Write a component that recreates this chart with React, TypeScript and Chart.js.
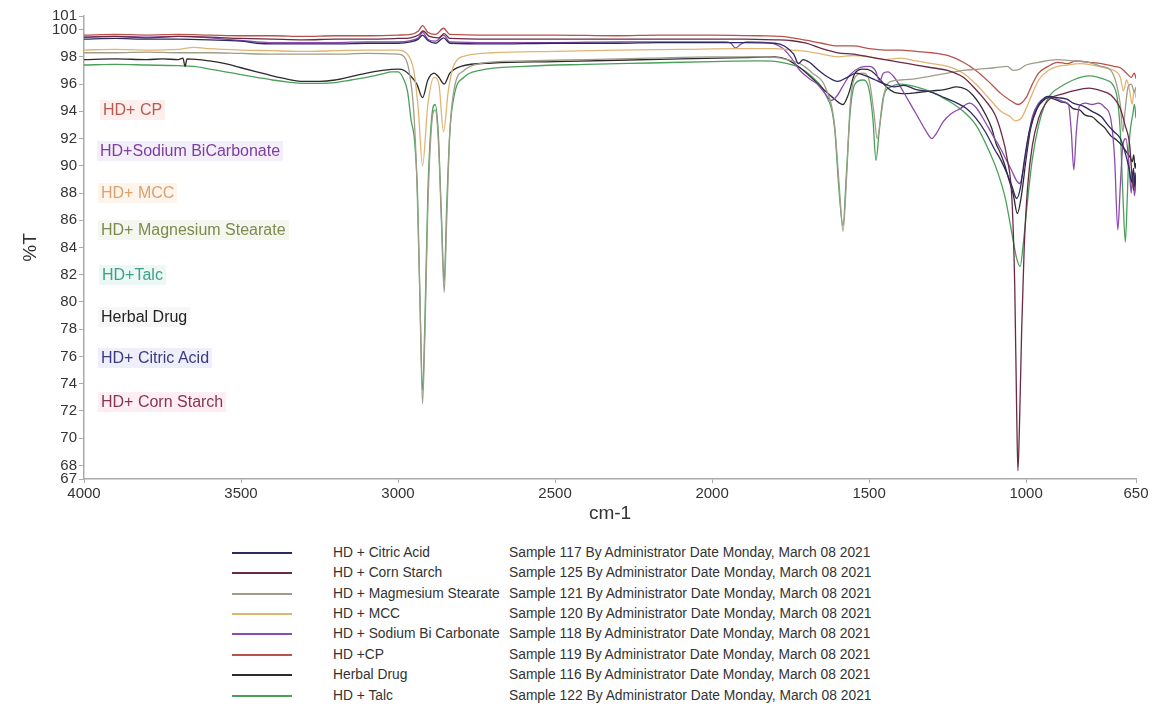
import React, { useEffect, useRef } from 'react';
import { Chart, registerables } from 'chart.js';
Chart.register(...registerables);

type P = [number, number];

const xTicks = [4000, 3500, 3000, 2500, 2000, 1500, 1000, 650];
const yTicks = [67, 68, 70, 72, 74, 76, 78, 80, 82, 84, 86, 88, 90, 92, 94, 96, 98, 100, 101];

const citricAcid: P[] = [
  [4000, 99.3], [3900, 99.35], [3800, 99.3], [3700, 99.3], [3600, 99.25], [3500, 99.15], [3450, 99.0], [3400, 98.95],
  [3300, 98.95], [3200, 98.95], [3100, 99.0], [3000, 99.0], [2960, 99.1], [2935, 99.3], [2922, 99.6], [2905, 99.2],
  [2880, 99.0], [2855, 99.4], [2835, 99.0], [2700, 98.95], [2500, 99.0], [2300, 99.0], [2170, 99.05], [2000, 99.05],
  [1900, 99.05], [1800, 99.0], [1770, 98.8], [1740, 98.2], [1725, 97.5], [1710, 97.8], [1690, 97.6], [1660, 97.0],
  [1630, 96.5], [1600, 96.2], [1570, 96.5], [1540, 96.8], [1510, 96.6], [1480, 96.3], [1450, 96.0], [1420, 95.8],
  [1390, 95.9], [1350, 95.6], [1300, 95.4], [1260, 95.0], [1220, 94.6], [1190, 94.2], [1160, 93.5], [1130, 92.5],
  [1100, 91.2], [1080, 90.4], [1060, 89.4], [1045, 88.5], [1030, 87.6], [1018, 88.4], [1005, 90.5], [990, 92.5],
  [970, 94.0], [950, 94.8], [930, 95.1], [900, 95.0], [870, 94.9], [850, 94.6], [820, 94.4], [790, 94.0],
  [760, 93.6], [740, 93.0], [720, 92.5], [700, 92.0], [685, 91.0], [672, 89.8], [664, 88.8], [658, 89.8],
  [654, 88.5], [650, 89.2],
];

const cornStarch: P[] = [
  [4000, 99.45], [3900, 99.5], [3800, 99.4], [3700, 99.5], [3600, 99.45], [3500, 99.35], [3400, 99.3], [3300, 99.25],
  [3200, 99.3], [3100, 99.3], [3000, 99.35], [2960, 99.4], [2935, 99.6], [2920, 99.9], [2900, 99.5], [2870, 99.4],
  [2853, 99.7], [2835, 99.35], [2700, 99.3], [2500, 99.3], [2300, 99.3], [2170, 99.3], [2000, 99.3], [1900, 99.3],
  [1800, 99.25], [1750, 99.2], [1700, 99.0], [1650, 98.6], [1600, 98.3], [1550, 98.2], [1500, 98.0], [1450, 97.8],
  [1400, 97.6], [1350, 97.4], [1300, 97.2], [1250, 97.0], [1200, 96.5], [1160, 95.6], [1130, 94.8], [1100, 93.8],
  [1080, 92.5], [1060, 90.5], [1045, 87.5], [1036, 81.0], [1030, 72.0], [1026, 67.6], [1021, 71.0], [1014, 78.0],
  [1006, 84.0], [995, 88.5], [980, 91.5], [960, 93.5], [940, 94.5], [920, 95.0], [880, 95.3], [850, 95.5],
  [800, 95.7], [760, 95.5], [730, 95.2], [700, 94.2], [685, 93.0], [670, 91.5], [662, 89.0], [657, 88.2],
  [653, 89.5], [650, 88.8],
];

const magnesiumStearate: P[] = [
  [4000, 98.3], [3900, 98.3], [3800, 98.35], [3700, 98.3], [3600, 98.3], [3500, 98.25], [3400, 98.2], [3300, 98.2],
  [3200, 98.2], [3100, 98.25], [3000, 98.2], [2980, 98.0], [2965, 97.0], [2950, 94.0], [2940, 89.0], [2930, 80.0],
  [2922, 72.5], [2914, 78.0], [2905, 87.0], [2893, 93.0], [2882, 94.1], [2872, 92.0], [2862, 86.0], [2853, 80.7],
  [2845, 86.0], [2835, 92.5], [2820, 95.8], [2790, 97.0], [2740, 97.5], [2600, 97.7], [2400, 97.8], [2200, 97.9],
  [2000, 98.0], [1850, 98.0], [1780, 97.9], [1720, 97.5], [1680, 96.8], [1640, 95.8], [1610, 93.0], [1595, 88.5],
  [1583, 85.2], [1572, 89.0], [1560, 94.5], [1545, 96.5], [1520, 96.8], [1500, 96.3], [1485, 94.0], [1474, 92.0],
  [1463, 93.5], [1450, 95.5], [1430, 96.2], [1400, 96.3], [1350, 96.4], [1300, 96.6], [1250, 96.8], [1200, 97.0],
  [1150, 97.1], [1100, 97.2], [1060, 97.3], [1040, 97.0], [1020, 97.1], [1000, 97.4], [960, 97.6], [900, 97.8],
  [850, 97.7], [800, 97.6], [760, 97.3], [730, 97.0], [710, 95.8], [700, 94.5], [692, 92.5], [685, 94.0],
  [675, 95.8], [665, 96.0], [655, 95.4], [650, 95.8],
];

const mcc: P[] = [
  [4000, 98.5], [3900, 98.55], [3800, 98.5], [3700, 98.55], [3650, 98.7], [3600, 98.6], [3500, 98.5], [3400, 98.45],
  [3300, 98.4], [3200, 98.45], [3100, 98.5], [3000, 98.5], [2970, 98.2], [2950, 97.0], [2935, 94.0], [2922, 90.0],
  [2905, 94.5], [2885, 96.5], [2870, 96.0], [2855, 92.5], [2840, 95.5], [2820, 97.5], [2780, 98.1], [2700, 98.3],
  [2500, 98.4], [2300, 98.5], [2100, 98.55], [1900, 98.6], [1800, 98.6], [1750, 98.5], [1700, 98.4], [1650, 98.2],
  [1600, 98.0], [1550, 98.1], [1500, 98.0], [1450, 97.8], [1400, 97.9], [1350, 97.7], [1300, 97.5], [1250, 97.3],
  [1200, 96.8], [1160, 96.0], [1120, 95.0], [1080, 94.0], [1050, 93.6], [1035, 93.3], [1015, 93.5], [1000, 94.2],
  [980, 95.3], [960, 96.3], [930, 97.0], [900, 97.3], [870, 97.4], [830, 97.5], [790, 97.4], [750, 97.2],
  [720, 97.0], [700, 96.5], [690, 95.5], [680, 96.3], [670, 95.5], [662, 94.5], [656, 95.6], [650, 95.0],
];

const sodiumBicarbonate: P[] = [
  [4000, 99.45], [3900, 99.5], [3800, 99.45], [3700, 99.5], [3600, 99.4], [3500, 99.2], [3450, 99.1], [3400, 99.05],
  [3300, 99.05], [3200, 99.05], [3100, 99.1], [3000, 99.1], [2960, 99.2], [2935, 99.4], [2922, 99.8], [2905, 99.3],
  [2880, 99.15], [2855, 99.6], [2835, 99.1], [2700, 99.05], [2500, 99.05], [2300, 99.1], [2170, 99.1], [2050, 99.1],
  [1960, 99.1], [1940, 99.0], [1925, 98.65], [1910, 98.9], [1890, 99.1], [1820, 99.05], [1780, 98.7], [1750, 98.0],
  [1720, 97.0], [1690, 96.4], [1665, 96.0], [1640, 95.3], [1620, 94.8], [1600, 95.2], [1585, 95.8], [1560, 96.7],
  [1530, 97.2], [1500, 97.3], [1480, 97.0], [1466, 96.2], [1455, 96.8], [1440, 96.9], [1420, 96.5], [1400, 95.8],
  [1380, 95.0], [1360, 94.2], [1340, 93.4], [1320, 92.6], [1300, 92.0], [1285, 92.4], [1265, 93.2], [1240, 93.8],
  [1210, 94.2], [1180, 94.6], [1160, 94.3], [1140, 93.6], [1120, 92.8], [1100, 92.0], [1080, 91.2], [1060, 90.3],
  [1045, 89.6], [1030, 88.9], [1020, 88.7], [1008, 89.8], [995, 91.8], [980, 93.6], [960, 94.6], [940, 95.0],
  [920, 95.1], [900, 94.9], [880, 94.7], [865, 94.5], [856, 92.5], [848, 89.7], [840, 92.5], [830, 94.4],
  [810, 94.6], [790, 94.5], [770, 94.6], [750, 94.3], [730, 93.4], [718, 90.5], [708, 85.3], [700, 88.5],
  [692, 91.5], [682, 92.0], [672, 90.0], [665, 88.0], [660, 89.5], [655, 87.8], [650, 88.8],
];

const cp: P[] = [
  [4000, 99.6], [3900, 99.65], [3800, 99.6], [3700, 99.65], [3600, 99.6], [3500, 99.55], [3400, 99.55], [3300, 99.5],
  [3200, 99.55], [3100, 99.55], [3000, 99.6], [2960, 99.65], [2935, 99.9], [2922, 100.3], [2905, 99.8], [2880, 99.65],
  [2855, 100.1], [2835, 99.65], [2700, 99.6], [2500, 99.6], [2300, 99.55], [2170, 99.6], [2000, 99.6], [1850, 99.55],
  [1780, 99.5], [1720, 99.3], [1650, 99.0], [1600, 98.8], [1550, 98.8], [1500, 98.6], [1450, 98.5], [1400, 98.5],
  [1350, 98.4], [1300, 98.3], [1250, 98.1], [1200, 97.6], [1160, 97.0], [1120, 96.2], [1080, 95.3], [1050, 94.8],
  [1025, 94.5], [1000, 95.0], [980, 96.0], [960, 96.8], [930, 97.3], [900, 97.6], [870, 97.5], [840, 97.7],
  [800, 97.6], [760, 97.5], [720, 97.3], [700, 97.2], [680, 96.8], [665, 96.5], [655, 96.8], [650, 96.4],
];

const herbalDrug: P[] = [
  [4000, 97.8], [3900, 97.85], [3800, 97.8], [3750, 97.85], [3700, 97.8], [3685, 97.9], [3678, 97.3], [3672, 97.85],
  [3600, 97.7], [3550, 97.5], [3500, 97.2], [3450, 96.9], [3400, 96.6], [3350, 96.35], [3300, 96.2], [3250, 96.2],
  [3200, 96.3], [3150, 96.55], [3100, 96.8], [3050, 97.0], [3000, 97.1], [2980, 97.0], [2960, 96.6], [2940, 96.0],
  [2922, 95.0], [2905, 96.3], [2885, 96.8], [2870, 96.5], [2853, 96.0], [2835, 96.8], [2800, 97.3], [2700, 97.55],
  [2500, 97.65], [2300, 97.75], [2100, 97.85], [1900, 97.95], [1800, 98.0], [1760, 97.8], [1720, 97.2], [1680, 96.4],
  [1640, 95.5], [1610, 94.9], [1583, 94.5], [1565, 95.3], [1545, 96.8], [1520, 97.1], [1495, 97.0], [1475, 96.6],
  [1460, 96.2], [1445, 95.8], [1420, 95.4], [1380, 95.3], [1340, 95.4], [1300, 95.5], [1260, 95.6], [1220, 95.8],
  [1190, 95.6], [1170, 95.2], [1150, 94.6], [1130, 93.8], [1110, 92.8], [1095, 91.6], [1083, 91.0], [1070, 90.2],
  [1055, 89.0], [1040, 87.8], [1028, 86.5], [1015, 87.8], [1000, 90.5], [985, 92.8], [965, 94.2], [945, 94.8],
  [930, 95.0], [910, 94.9], [890, 94.7], [870, 94.6], [850, 94.2], [830, 94.1], [810, 93.7], [790, 93.6],
  [770, 93.2], [750, 92.8], [730, 92.2], [712, 91.9], [695, 91.5], [680, 91.0], [668, 90.6], [662, 90.3],
  [657, 90.8], [653, 89.8], [650, 90.2],
];

const talc: P[] = [
  [4000, 97.4], [3900, 97.45], [3800, 97.4], [3700, 97.35], [3650, 97.3], [3600, 97.1], [3550, 96.9], [3500, 96.7],
  [3450, 96.5], [3400, 96.3], [3350, 96.15], [3300, 96.05], [3250, 96.05], [3200, 96.1], [3150, 96.3], [3100, 96.5],
  [3050, 96.75], [3020, 96.9], [3000, 96.9], [2985, 96.5], [2970, 95.5], [2958, 93.3], [2948, 92.0], [2938, 88.0],
  [2930, 80.0], [2922, 73.5], [2914, 79.0], [2905, 88.0], [2893, 93.5], [2882, 94.5], [2872, 92.5], [2862, 86.5],
  [2853, 81.5], [2845, 87.0], [2835, 92.5], [2820, 95.3], [2790, 96.5], [2740, 97.0], [2600, 97.3], [2400, 97.45],
  [2200, 97.55], [2000, 97.65], [1850, 97.7], [1780, 97.6], [1720, 97.2], [1680, 96.5], [1640, 95.3], [1610, 92.8],
  [1595, 88.0], [1583, 85.6], [1572, 89.5], [1560, 94.0], [1545, 96.0], [1520, 96.3], [1500, 95.6], [1488, 93.5],
  [1478, 90.4], [1468, 92.5], [1455, 95.0], [1430, 95.8], [1400, 96.0], [1350, 95.8], [1300, 95.4], [1250, 94.8],
  [1200, 94.0], [1160, 93.0], [1120, 91.2], [1090, 89.5], [1065, 87.5], [1045, 85.0], [1030, 83.2], [1019, 82.6],
  [1008, 84.5], [995, 87.5], [980, 90.5], [960, 93.0], [940, 94.5], [920, 95.3], [890, 95.8], [850, 96.3],
  [800, 96.6], [770, 96.5], [745, 96.3], [725, 96.0], [710, 95.0], [700, 92.5], [692, 88.0], [684, 84.4],
  [678, 87.5], [672, 91.5], [666, 93.0], [660, 93.8], [655, 94.5], [650, 93.5],
];

const legendNames = [
  'HD + Citric Acid',
  'HD + Corn Starch',
  'HD + Magmesium Stearate',
  'HD + MCC',
  'HD + Sodium Bi Carbonate',
  'HD +CP',
  'Herbal Drug',
  'HD + Talc',
];
const sampleNumbers = [117, 125, 121, 120, 118, 119, 116, 122];
const seriesColors = ['#2c2a5e', '#6a2a45', '#a09c8a', '#dfb574', '#8c4bb0', '#b8524a', '#2b2b2b', '#4aa05a'];
const seriesData = [citricAcid, cornStarch, magnesiumStearate, mcc, sodiumBicarbonate, cp, herbalDrug, talc];

const plotLabels = ['HD+ CP', 'HD+Sodium BiCarbonate', 'HD+ MCC', 'HD+ Magnesium Stearate', 'HD+Talc', 'Herbal Drug', 'HD+ Citric Acid', 'HD+ Corn Starch'];
const plotLabelColors = ['#b85a4e', '#7b3f9e', '#d9a270', '#7d8a50', '#3fa08a', '#222222', '#3a3a7e', '#8a3550'];
const plotLabelBg = ['rgba(240,150,140,0.15)', 'rgba(170,120,220,0.13)', 'rgba(240,180,120,0.15)', 'rgba(160,190,120,0.13)', 'rgba(120,210,180,0.15)', 'rgba(0,0,0,0.03)', 'rgba(120,120,220,0.12)', 'rgba(240,120,160,0.13)'];
const plotLabelTops = [110, 151, 193, 230, 275, 317, 358, 402];
const plotLabelLefts = [103, 100, 101, 101, 102, 101, 101, 101];

const legendRowCenters = [553, 573, 594, 614, 634, 655, 675, 696];

const FONT = "'Liberation Sans', Arial, sans-serif";

export default function App() {
  const ref = useRef<HTMLCanvasElement>(null);

  useEffect(() => {
    if (!ref.current) return;
    const chart = new Chart(ref.current, {
      type: 'line',
      data: {
        datasets: seriesData.map((s, i) => ({
          label: legendNames[i],
          data: s.map(([x, y]) => ({ x, y })),
          borderColor: seriesColors[i],
          backgroundColor: seriesColors[i],
          borderWidth: 1.3,
          pointRadius: 0,
          cubicInterpolationMode: 'monotone' as const,
          fill: false,
        })),
      },
      options: {
        responsive: false,
        animation: false,
        layout: { padding: { top: 16, right: 21, bottom: 0, left: 0 } },
        plugins: { legend: { display: false }, tooltip: { enabled: false } },
        scales: {
          x: {
            type: 'linear',
            reverse: true,
            min: 650,
            max: 4000,
            afterBuildTicks: (s: any) => {
              s.ticks = xTicks.map((v) => ({ value: v }));
            },
            afterFit: (s: any) => {
              s.height = 51;
            },
            ticks: { autoSkip: false, maxRotation: 0, padding: 2, color: '#333', font: { family: FONT, size: 15 }, callback: (v: any) => String(v) },
            grid: { drawOnChartArea: false, drawTicks: true, tickLength: 4, color: '#aaa' },
            border: { display: true, color: '#aaa', width: 1.5 },
            title: { display: true, text: 'cm-1', color: '#333', font: { family: FONT, size: 19 }, padding: { top: 0, bottom: 5 } },
          },
          y: {
            type: 'linear',
            min: 67,
            max: 101,
            afterBuildTicks: (s: any) => {
              s.ticks = yTicks.map((v) => ({ value: v }));
            },
            afterFit: (s: any) => {
              s.width = 84;
            },
            ticks: { autoSkip: false, padding: 2, color: '#333', font: { family: FONT, size: 15 }, callback: (v: any) => String(v) },
            grid: { drawOnChartArea: false, drawTicks: true, tickLength: 5, color: '#aaa' },
            border: { display: true, color: '#aaa', width: 1.5 },
            title: { display: true, text: '%T', color: '#333', font: { family: FONT, size: 19 }, padding: { top: 19, bottom: 0 } },
          },
        },
      },
    });
    return () => chart.destroy();
  }, []);

  return (
    <div style={{ position: 'absolute', left: 0, top: 0, width: 1157, height: 710, background: '#fff', fontFamily: FONT, overflow: 'hidden' }}>
      <canvas ref={ref} width={1157} height={530} style={{ position: 'absolute', left: 0, top: 0, width: 1157, height: 530 }} />
      {plotLabels.map((t, i) => (
        <div
          key={t}
          style={{
            position: 'absolute',
            left: plotLabelLefts[i] - 3,
            top: plotLabelTops[i] - 10,
            height: 20,
            lineHeight: '20px',
            padding: '0 3px',
            fontSize: 16,
            color: plotLabelColors[i],
            background: plotLabelBg[i],
            whiteSpace: 'nowrap',
          }}
        >
          {t}
        </div>
      ))}
      {legendNames.map((n, i) => (
        <div key={n} style={{ position: 'absolute', left: 0, top: legendRowCenters[i] - 9, height: 18, width: 1157 }}>
          <div style={{ position: 'absolute', left: 232, top: 8, width: 60, height: 2, background: seriesColors[i] }} />
          <div style={{ position: 'absolute', left: 333, top: 0, lineHeight: '18px', fontSize: 13.8, color: '#333', whiteSpace: 'nowrap' }}>{n}</div>
          <div style={{ position: 'absolute', left: 509, top: 0, lineHeight: '18px', fontSize: 13.8, color: '#333', whiteSpace: 'nowrap' }}>
            {`Sample ${sampleNumbers[i]} By Administrator Date Monday, March 08 2021`}
          </div>
        </div>
      ))}
    </div>
  );
}
